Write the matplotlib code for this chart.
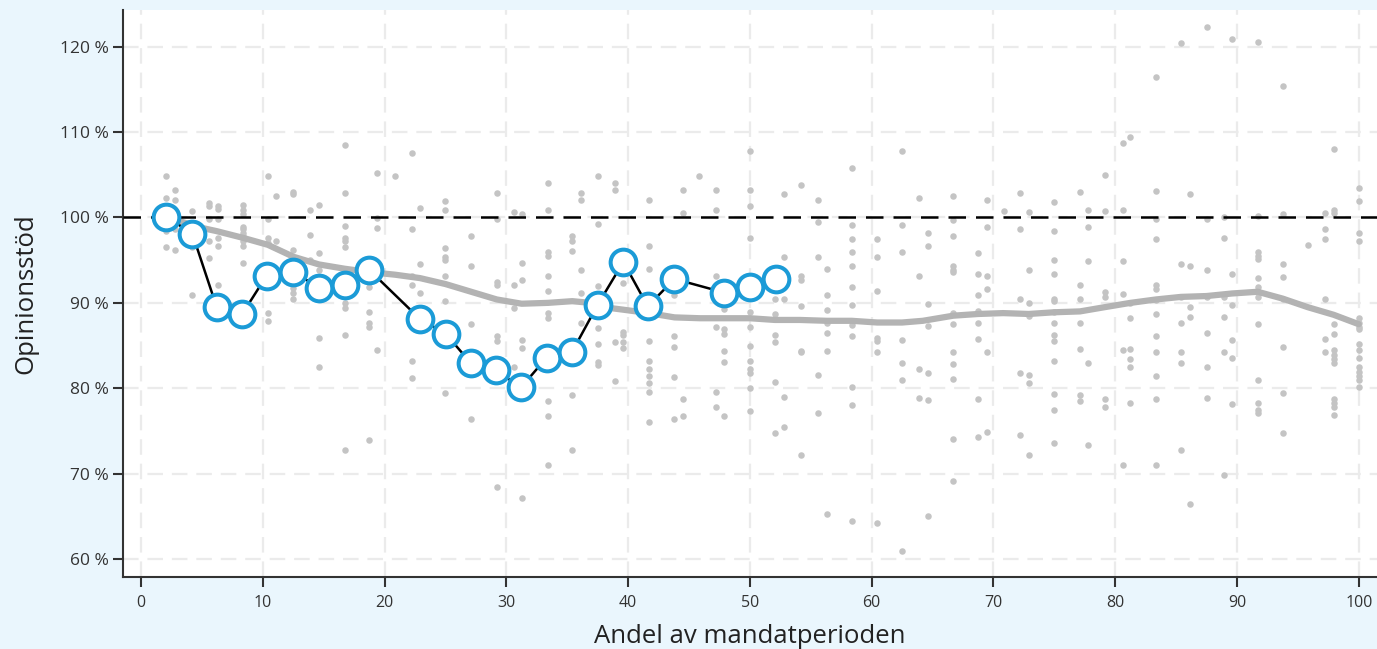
import matplotlib.pyplot as plt
from matplotlib.ticker import FuncFormatter

plt.rcParams['font.family'] = ['Open Sans', 'DejaVu Sans']

# enskilda mätningar (grå punkter), en kolumn per x-position
dot_x = [2.05, 2.8, 4.16, 5.6, 6.27, 8.35, 10.4, 11.1, 12.5, 13.9, 14.6, 16.7, 18.7, 19.4,
         20.85, 22.2, 22.9, 24.96, 27.1, 29.2, 30.6, 31.25, 33.4, 35.4, 36.1, 37.5, 38.9,
         39.6, 41.7, 43.8, 44.5, 45.8, 47.2, 47.9, 50.0, 52.05, 52.8, 54.2, 55.6, 56.3,
         58.35, 60.45, 62.5, 63.9, 64.6, 66.7, 68.75, 69.45, 70.85, 72.2, 72.9, 75.0,
         77.1, 77.8, 79.15, 80.6, 81.25, 83.35, 85.4, 86.1, 87.5, 88.9, 89.6, 91.7,
         93.75, 95.85, 97.2, 97.95, 100.0]
dot_y = [
    [104.8, 102.3, 98.4, 96.6],
    [103.2, 102.0, 98.6, 96.2],
    [100.8, 96.6, 90.9],
    [101.7, 101.3, 99.8, 97.2, 95.2],
    [101.4, 101.0, 99.8, 97.6, 96.7, 92.1],
    [101.5, 100.9, 100.4, 98.9, 98.6, 98.2, 97.8, 97.2, 96.7, 94.7],
    [104.8, 99.8, 97.6, 97.0, 88.8, 87.9],
    [102.5, 97.2],
    [103.0, 102.8, 96.2, 91.7, 91.1, 90.5],
    [100.9, 97.9, 95.0],
    [101.5, 95.8, 93.8, 85.9, 82.5],
    [108.5, 102.9, 99.0, 97.6, 97.2, 96.6, 90.0, 89.4, 86.2, 72.8],
    [91.9, 88.9, 87.6, 87.2, 73.9],
    [105.2, 99.9, 98.8, 84.5],
    [104.8],
    [107.5, 98.6, 93.1, 92.1, 83.2, 81.2],
    [101.1, 94.5, 91.1],
    [101.9, 100.9, 96.4, 95.4, 95.0, 93.1, 90.2, 79.4],
    [97.8, 94.3, 87.5, 76.4],
    [102.9, 99.8, 92.5, 92.1, 86.1, 85.5, 68.4],
    [100.7, 92.1, 89.4, 82.5],
    [100.4, 94.7, 92.7, 85.7, 84.7, 67.1],
    [104.0, 100.9, 96.0, 95.5, 93.2, 91.4, 88.8, 88.2, 78.5, 76.7, 71.0],
    [97.8, 97.3, 96.1, 79.2, 72.8],
    [102.9, 102.1, 93.8, 91.1, 87.7],
    [104.8, 99.2, 92.0, 87.0, 85.2, 83.1, 82.7],
    [104.0, 103.2, 85.4, 80.9],
    [92.3, 86.6, 86.2, 85.4, 84.7],
    [102.1, 96.7, 94.0, 85.5, 83.2, 82.3, 81.4, 80.6, 79.6, 76.1],
    [90.9, 86.1, 84.8, 81.3, 76.4],
    [103.2, 100.5, 78.7, 76.8],
    [104.8],
    [103.2, 100.9, 93.2, 87.2, 79.6, 77.8],
    [89.3, 86.9, 86.4, 84.4, 83.1, 76.8],
    [107.8, 103.2, 101.4, 97.6, 88.9, 87.2, 85.0, 83.2, 82.2, 81.8, 80.0, 77.3],
    [90.5, 88.7, 86.2, 85.4, 80.7, 74.8],
    [102.7, 95.4, 90.5, 79.0, 75.5],
    [103.8, 93.1, 92.7, 89.6, 84.4, 84.2, 72.2],
    [102.1, 99.5, 95.4, 81.5, 77.1],
    [94.0, 90.9, 89.2, 87.7, 86.5, 84.4, 65.3],
    [105.8, 99.1, 97.5, 95.9, 94.3, 91.9, 89.7, 87.4, 86.1, 80.2, 78.0, 64.4],
    [97.5, 95.4, 91.4, 85.9, 85.5, 84.2, 64.2],
    [107.8, 99.1, 96.0, 85.6, 82.9, 81.0, 60.9],
    [102.3, 93.2, 82.3, 78.9],
    [98.2, 96.7, 89.9, 87.3, 81.8, 78.6, 65.0],
    [102.5, 99.7, 97.8, 94.3, 93.9, 93.6, 88.8, 87.5, 84.2, 82.8, 81.1, 74.0, 69.1],
    [95.8, 93.4, 90.9, 89.0, 87.6, 85.8, 78.8, 74.3],
    [102.1, 98.9, 93.2, 91.6, 84.3, 74.9],
    [100.8],
    [102.9, 98.6, 90.5, 81.8, 74.5],
    [100.6, 93.8, 90.0, 88.5, 81.6, 80.6, 72.2],
    [101.8, 98.4, 95.0, 93.4, 90.4, 90.2, 88.9, 87.7, 86.2, 85.5, 83.2, 79.3, 77.5, 73.6],
    [103.0, 92.1, 90.5, 87.7, 84.6, 79.2, 78.5],
    [100.9, 98.9, 94.9, 83.0, 73.4],
    [105.0, 100.8, 91.3, 90.7, 78.7, 77.8],
    [108.7, 100.9, 94.9, 91.0, 84.5, 71.0],
    [109.4, 90.0, 88.2, 84.6, 83.4, 82.5, 78.3],
    [116.5, 103.1, 99.8, 97.5, 92.1, 91.6, 90.3, 88.7, 86.1, 84.2, 81.4, 78.7, 71.0],
    [120.4, 94.6, 90.7, 87.7, 84.2, 83.0, 72.8],
    [102.7, 94.3, 89.5, 88.3, 66.4],
    [122.3, 99.8, 93.8, 90.7, 86.5, 82.5, 78.9],
    [100.0, 97.6, 90.7, 88.3, 84.3, 69.8],
    [120.9, 93.4, 89.8, 85.7, 83.6, 78.1],
    [120.6, 100.2, 95.9, 95.5, 95.1, 92.9, 91.9, 90.7, 87.5, 81.0, 78.3, 77.5, 77.1],
    [115.4, 100.4, 94.5, 93.0, 90.5, 84.8, 79.4, 74.8],
    [96.8],
    [100.5, 98.7, 97.5, 90.5, 85.8, 84.2],
    [108.0, 100.9, 100.5, 87.5, 86.3, 84.5, 83.9, 83.4, 82.9, 78.7, 78.3, 77.8, 76.9],
    [103.5, 101.9, 98.2, 97.3, 88.2, 87.7, 87.2, 86.9, 85.2, 84.5, 83.6, 82.5, 81.9,
     81.4, 81.0, 80.2],
]

# utjämnad kurva (grå linje)
smooth_x = [2.05, 2.9, 4.6, 6.2, 8.4, 10.4, 12.5, 14.6, 16.7, 18.75, 20.85, 22.9, 25.0,
            27.1, 29.2, 31.25, 33.4, 35.4, 36.9, 38.5, 39.6, 41.7, 43.8, 45.9, 47.9,
            50.0, 52.05, 54.1, 56.3, 58.35, 60.45, 62.5, 64.2, 66.7, 68.75, 70.8, 72.9,
            75.0, 77.1, 79.15, 81.25, 83.35, 85.4, 87.5, 89.6, 91.7, 93.75, 95.8, 97.95,
            100.0]
smooth_y = [100.0, 99.7, 98.9, 98.4, 97.6, 96.8, 95.4, 94.5, 94.0, 93.6, 93.3, 92.9, 92.2,
            91.3, 90.4, 89.9, 90.0, 90.2, 90.0, 89.4, 89.2, 88.8, 88.3, 88.2, 88.2,
            88.2, 88.0, 88.0, 87.9, 87.9, 87.7, 87.7, 87.9, 88.5, 88.7, 88.8, 88.7,
            88.9, 89.0, 89.5, 90.0, 90.4, 90.7, 90.8, 91.1, 91.3, 90.5, 89.5, 88.6,
            87.5]

# nuvarande mandatperiod (blå ringar)
cur_x = [2.05, 4.2, 6.2, 8.3, 10.3, 12.5, 14.6, 16.7, 18.7, 22.9, 25.0, 27.1, 29.1,
         31.2, 33.3, 35.4, 37.5, 39.6, 41.6, 43.8, 47.9, 50.0, 52.1]
cur_y = [100.1, 98.1, 89.5, 88.7, 93.2, 93.6, 91.8, 92.1, 93.9, 88.1, 86.4, 82.9, 82.1,
         80.1, 83.6, 84.3, 89.8, 94.8, 89.6, 92.8, 91.2, 91.9, 92.8]

bg = '#eaf6fd'
fig = plt.figure(figsize=(13.77, 6.49), dpi=100, facecolor=bg)
ax = fig.add_axes([0.0893, 0.111, 0.9107, 0.8736])
ax.set_facecolor('white')

sx, sy = [], []
for x, ys in zip(dot_x, dot_y):
    for y in ys:
        sx.append(x)
        sy.append(y)
ax.scatter(sx, sy, s=22, color='#c4c4c4', linewidths=0, zorder=2)

ax.plot(smooth_x, smooth_y, color='#b3b3b3', lw=4.5, solid_capstyle='round', zorder=3)
ax.axhline(100, color='black', lw=1.8, dashes=(7, 4), zorder=4)
ax.plot(cur_x, cur_y, color='black', lw=1.8, zorder=5)
ax.plot(cur_x, cur_y, ls='none', marker='o', ms=18.5, mfc='white', mec='#1b9bd7',
        mew=2.9, zorder=6)

ax.set_xlim(-1.5, 101.5)
ax.set_ylim(57.9, 124.3)
ax.set_xticks(range(0, 101, 10))
ax.set_yticks(range(60, 121, 10))
ax.yaxis.set_major_formatter(FuncFormatter(lambda v, p: f'{v:.0f} %'))
ax.grid(True, color='#ebebeb', lw=1.6, dashes=(7, 4), zorder=0)
ax.set_axisbelow(True)

for s in ['top', 'right']:
    ax.spines[s].set_visible(False)
for s in ['left', 'bottom']:
    ax.spines[s].set_color('#333333')
    ax.spines[s].set_linewidth(1.5)
ax.tick_params(axis='both', length=7, width=1.5, color='#333333', labelcolor='#333333',
               direction='out')
ax.tick_params(axis='x', labelsize=11.5, pad=6)
ax.tick_params(axis='y', labelsize=12.5)

ax.set_xlabel('Andel av mandatperioden', fontsize=18.5, color='#222222', labelpad=9)
ax.set_ylabel('Opinionsstöd', fontsize=18.5, color='#222222', labelpad=15)

fig.savefig('out.png', dpi=100, facecolor=bg)
